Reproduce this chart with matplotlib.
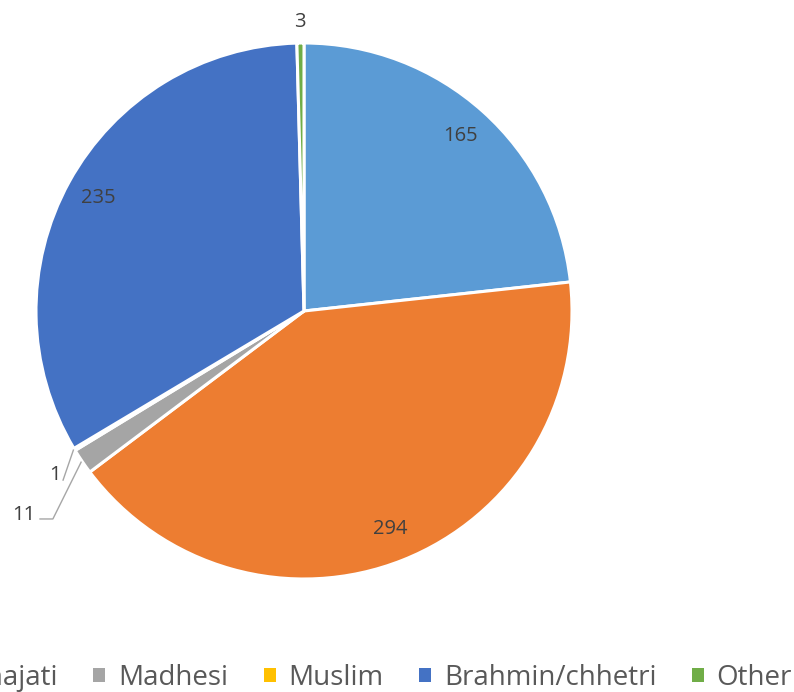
import numpy as np
import matplotlib
matplotlib.use("Agg")
import matplotlib.pyplot as plt
from matplotlib.patches import Patch

# data
groups = ["Dalit", "Janajati", "Madhesi", "Muslim", "Brahmin/chhetri", "Other"]
counts = [165, 294, 11, 1, 235, 3]
colors = ["#5B9BD5", "#ED7D31", "#A5A5A5", "#FFC000", "#4472C4", "#70AD47"]

plt.rcParams["font.family"] = ["Open Sans", "DejaVu Sans"]

W, H = 794, 692
fig = plt.figure(figsize=(W / 100, H / 100), dpi=100)

# pie centre (304, 311) px, radius 268 px
cx, cy, r = 304, 311, 268
ax = fig.add_axes([(cx - r) / W, (H - cy - r) / H, 2 * r / W, 2 * r / H])

wedges, _ = ax.pie(counts, colors=colors, startangle=90, counterclock=False,
                   radius=1.0, wedgeprops=dict(edgecolor="white", linewidth=2.2))
ax.set_xlim(-1, 1)
ax.set_ylim(-1, 1)
ax.set_aspect("equal")
ax.axis("off")

# inside labels for the big slices
for w, n in zip(wedges, counts):
    if n < 50:
        continue
    mid = np.deg2rad((w.theta1 + w.theta2) / 2)
    ax.text(0.875 * np.cos(mid), 0.875 * np.sin(mid), str(n),
            ha="center", va="center", fontsize=14.5, color="#404040")

# outside labels for the thin ones (text pos, leader points)
outside = {
    2: ((-1.045, -0.761), [(-0.937, -0.776), (-0.985, -0.776)]),
    3: ((-0.929, -0.612), [(-0.899, -0.631)]),
    5: ((-0.015, 1.078), []),
}
for i, (tpos, pts) in outside.items():
    w = wedges[i]
    mid = np.deg2rad((w.theta1 + w.theta2) / 2)
    if pts:
        xs = [1.005 * np.cos(mid)] + [p[0] for p in pts]
        ys = [1.005 * np.sin(mid)] + [p[1] for p in pts]
        ax.plot(xs, ys, color="#A6A6A6", linewidth=1.0, clip_on=False)
    ax.text(tpos[0], tpos[1], str(counts[i]), ha="center", va="center",
            fontsize=14.5, color="#404040", clip_on=False)

# legend, runs off the left edge like the original
handles = [Patch(facecolor=c, edgecolor="none") for c in colors]
leg = fig.legend(handles, groups, loc="lower right", bbox_to_anchor=(792 / W, 0.0),
                 ncol=6, frameon=False, fontsize=20, borderpad=0, borderaxespad=0,
                 handlelength=0.43, handleheight=0.43, handletextpad=0.46,
                 columnspacing=1.28)
for t in leg.get_texts():
    t.set_color("#595959")

fig.savefig("out.png", dpi=100)
